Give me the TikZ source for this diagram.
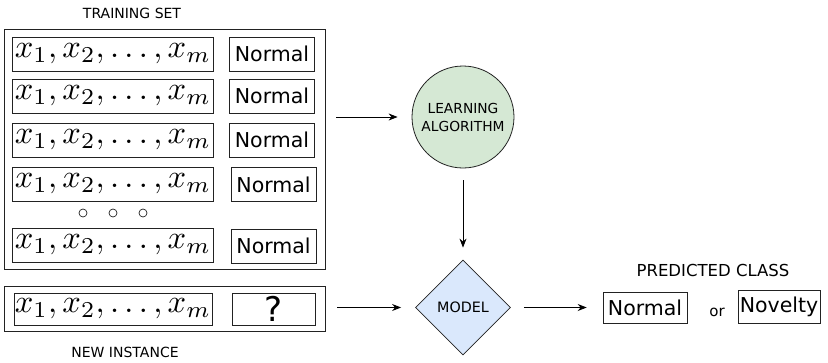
\documentclass[tikz,border=0pt]{standalone}
\usepackage{graphicx}
\usepackage[no-math]{fontspec}
\setmainfont{DejaVu Sans}
\usetikzlibrary{shapes.geometric,arrows.meta}
\definecolor{algfill}{HTML}{D5E8D4}
\definecolor{modelfill}{HTML}{DAE8FC}
\definecolor{edge}{HTML}{222222}
% feature vector, scaled up from the 10pt math setting
\newcommand{\featvec}{\scalebox{3.25}{$x_1, x_2, \ldots, x_m$}}
\tikzset{
  frame/.style={draw=edge, line width=0.9pt, inner sep=0pt},
  featbox/.style={draw=edge, line width=0.9pt, inner sep=0pt, minimum width=201pt, minimum height=34pt},
  labbox/.style={draw=edge, line width=0.6pt, inner sep=0pt, minimum width=85pt, minimum height=34pt,
    font=\fontsize{20.5}{22}\selectfont},
  caption/.style={inner sep=0pt, font=\fontsize{14}{16}\selectfont},
  dotmark/.style={circle, draw=edge, line width=0.7pt, minimum size=8pt, inner sep=0pt},
  arr/.style={draw=black, line width=0.9pt, -{Stealth[length=9pt,width=7pt]}},
}
\begin{document}
\begin{tikzpicture}[x=1pt,y=-1pt]
\useasboundingbox (0,0) rectangle (828,362);

% training set and its rows
\node[caption] (trainlbl) at (132,13) {TRAINING SET};
\node[frame, minimum width=321pt, minimum height=240pt] (train) at (164.5,149) {};
\node[featbox] (f1) at (113,54)  {\featvec};
\node[featbox] (f2) at (113,96)  {\featvec};
\node[featbox] (f3) at (113,140) {\featvec};
\node[featbox] (f4) at (113,184) {\featvec};
\node[featbox] (f5) at (113,245) {\featvec};
\node[labbox] (n1) at (272,54)  {Normal};
\node[labbox] (n2) at (272,96)  {Normal};
\node[labbox] (n3) at (272,140) {Normal};
\node[labbox] (n4) at (273.5,184.5) {Normal};
\node[labbox] (n5) at (273.5,246) {Normal};
\node[dotmark] (d1) at (83,213) {};
\node[dotmark] (d2) at (113,213) {};
\node[dotmark] (d3) at (143,213) {};

% new instance
\node[frame, minimum width=321pt, minimum height=45pt] (newinst) at (164.5,308.5) {};
\node[featbox, minimum width=198pt, minimum height=32pt] (fq) at (113,309) {\featvec};
\node[labbox, line width=0.9pt, minimum width=83pt, minimum height=32pt, font=\fontsize{34}{36}\selectfont] (q) at (273.5,309) {?};
\node[caption] (newlbl) at (125,352) {NEW INSTANCE};

% learning algorithm and model
\node[circle, draw=edge, line width=0.8pt, fill=algfill, minimum size=102pt, inner sep=0pt, align=center,
  font=\fontsize{13.8}{18}\selectfont] (alg) at (463,117) {LEARNING\\ALGORITHM};
\node[diamond, draw=edge, line width=0.8pt, fill=modelfill, minimum width=95pt, minimum height=95pt,
  inner sep=0pt, font=\fontsize{14.3}{16}\selectfont] (model) at (463,307.5) {MODEL};

% predicted class
\node[caption, font=\fontsize{16.5}{18}\selectfont] (predlbl) at (713,270) {PREDICTED CLASS};
\node[labbox, minimum width=84pt, minimum height=31pt] (pn) at (645,307.5) {Normal};
\node[inner sep=0pt, font=\fontsize{15}{17}\selectfont] (orlbl) at (717,312) {or};
\node[labbox, minimum width=82pt, minimum height=33pt] (pv) at (779,306.5) {Novelty};

% connectors
\draw[arr, shorten <=11pt, shorten >=14pt] (train.east |- alg.west) -- (alg.west);
\draw[arr, shorten <=12pt, shorten >=12pt] (alg.south) -- (model.north);
\draw[arr, shorten <=12pt, shorten >=14pt] (newinst.east |- model.west) -- (model.west);
\draw[arr, shorten <=13pt, shorten >=16pt] (model.east) -- (model.east -| pn.west);
\end{tikzpicture}
\end{document}
